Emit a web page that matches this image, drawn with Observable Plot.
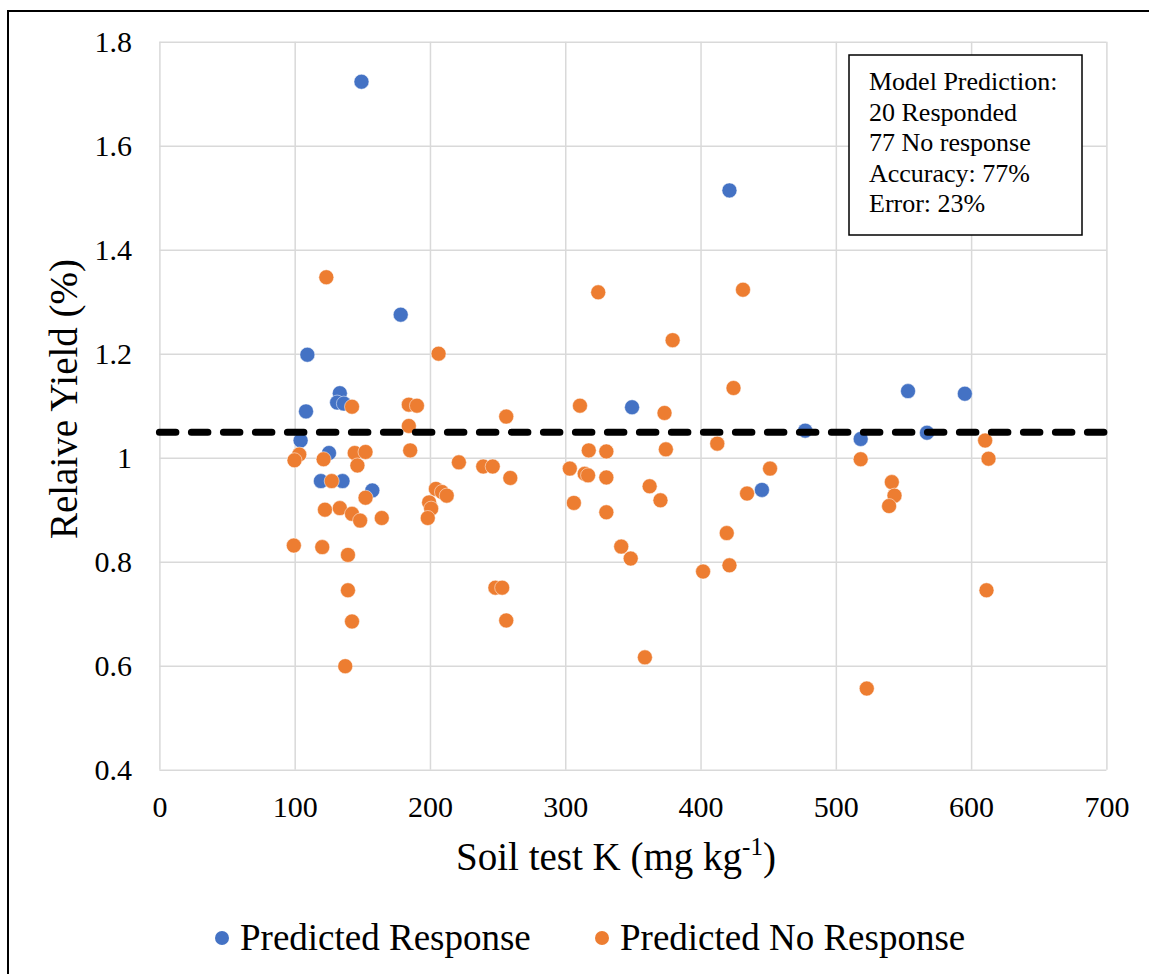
<!DOCTYPE html>
<html>
<head>
<meta charset="utf-8">
<script src="https://cdn.jsdelivr.net/npm/d3@7"></script>
<script src="https://cdn.jsdelivr.net/npm/@observablehq/plot@0.6"></script>
<style>
  html, body { margin: 0; padding: 0; background: #fff; }
  #wrap { position: relative; width: 1149px; height: 974px; overflow: hidden; }
  #wrap svg, #wrap svg text { font-family: "Liberation Serif", "Times New Roman", serif !important; }
  #frame { position: absolute; left: 7px; top: 10px; width: 1300px; height: 1100px;
           border-top: 2px solid #000; border-left: 2.5px solid #000; pointer-events: none; }
</style>
</head>
<body>
<div id="wrap"><div id="frame"></div></div>
<script>
// Soil test K (mg/kg) and relative yield for sites the model predicted to respond
const responseK  = [149, 421, 178, 109, 133, 131, 136, 108, 104, 125, 119, 135, 157, 349, 477, 445, 553, 518, 567, 595];
const responseRY = [1.724, 1.515, 1.276, 1.199, 1.125, 1.107, 1.105, 1.090, 1.034, 1.010, 0.956, 0.956, 0.938, 1.098, 1.053, 0.939, 1.129, 1.037, 1.049, 1.124];

// Sites the model predicted would not respond
const noRespK  = [123, 324, 431, 379, 206, 424, 142, 184, 190, 184, 185, 103, 99.5, 121, 144, 152, 146, 127, 152, 122,
                  133, 142, 148, 164, 99, 120, 139, 139, 142, 137, 221, 239, 246, 204, 208.5, 212, 199, 200.5, 198, 248,
                  253, 256, 256, 259, 310.5, 373, 412, 317, 330, 374, 303, 314, 316.5, 330, 362, 370, 306, 330, 341, 348,
                  401.5, 358.5, 451, 434, 419, 421, 518, 541, 543, 539, 610, 612.5, 611, 522.5];
const noRespRY = [1.348, 1.319, 1.324, 1.227, 1.201, 1.135, 1.099, 1.103, 1.101, 1.062, 1.015, 1.007, 0.996, 0.998, 1.010, 1.012, 0.986, 0.956, 0.924, 0.901,
                  0.904, 0.893, 0.880, 0.885, 0.832, 0.829, 0.814, 0.746, 0.686, 0.600, 0.992, 0.984, 0.984, 0.941, 0.935, 0.928, 0.915, 0.903, 0.885, 0.751,
                  0.751, 1.080, 0.688, 0.962, 1.101, 1.087, 1.028, 1.015, 1.013, 1.017, 0.980, 0.970, 0.967, 0.963, 0.946, 0.919, 0.914, 0.896, 0.830, 0.807,
                  0.782, 0.617, 0.980, 0.932, 0.856, 0.794, 0.998, 0.954, 0.928, 0.908, 1.034, 0.999, 0.746, 0.557];

// Critical relative-yield threshold
const threshold = 1.05;

// Axis ticks
const xTicks = [0, 100, 200, 300, 400, 500, 600, 700];
const yTicks = [0.4, 0.6, 0.8, 1.0, 1.2, 1.4, 1.6, 1.8];

// Series names, colours and the model summary
const seriesNames  = ["Predicted Response", "Predicted No Response"];
const seriesColors = ["#4472C4", "#ED7D31"];
const summaryLines = ["Model Prediction:", "20 Responded", "77 No response", "Accuracy: 77%", "Error: 23%"];

const response   = responseK.map((k, i) => ({k, ry: responseRY[i]}));
const noResponse = noRespK.map((k, i) => ({k, ry: noRespRY[i]}));

const W = 1149, H = 974;
const serif = "'Liberation Serif', 'Times New Roman', serif";

const chart = Plot.plot({
  width: W,
  height: H,
  marginLeft: 159.4,
  marginRight: 42.6,
  marginTop: 41.7,
  marginBottom: 204.3,
  style: {fontFamily: serif, background: "white", color: "black"},
  x: {domain: [0, 700]},
  y: {domain: [0.4, 1.8]},
  marks: [
    Plot.gridX(xTicks, {stroke: "#d9d9d9", strokeOpacity: 1, strokeWidth: 1.5}),
    Plot.gridY(yTicks, {stroke: "#d9d9d9", strokeOpacity: 1, strokeWidth: 1.5}),
    Plot.axisX({ticks: xTicks, tickSize: 0, tickPadding: 25, fontSize: 30, label: null}),
    Plot.axisY({ticks: yTicks, tickSize: 0, tickPadding: 28, fontSize: 30, label: null,
                tickFormat: d => String(+d.toFixed(1))}),
    Plot.dot(response,   {x: "k", y: "ry", r: 7.5, fill: seriesColors[0], stroke: "white", strokeWidth: 0.5}),
    Plot.dot(noResponse, {x: "k", y: "ry", r: 7.5, fill: seriesColors[1], stroke: "white", strokeWidth: 0.5}),
    Plot.ruleY([threshold], {stroke: "black", strokeWidth: 7, strokeDasharray: "16.5,15.5", strokeLinecap: "round"})
  ]
});

const svg = d3.select(chart).attr("font-family", serif);

// Y axis title
svg.append("text")
  .attr("transform", "translate(77,399) rotate(-90)")
  .attr("text-anchor", "middle")
  .attr("font-size", 39).attr("fill", "black")
  .text("Relaive Yield (%)");

// X axis title with superscript
const xt = svg.append("text")
  .attr("x", 616).attr("y", 870)
  .attr("text-anchor", "middle")
  .attr("font-size", 39).attr("fill", "black");
xt.append("tspan").text("Soil test K (mg kg");
xt.append("tspan").attr("font-size", 25).attr("dy", -15).text("-1");
xt.append("tspan").attr("dy", 15).text(")");

// Legend
const legendX = [222, 602];
seriesNames.forEach((name, i) => {
  svg.append("circle").attr("cx", legendX[i]).attr("cy", 938).attr("r", 7).attr("fill", seriesColors[i]);
  svg.append("text").attr("x", legendX[i] + 18).attr("y", 950)
    .attr("text-anchor", "start")
    .attr("font-size", 37).attr("fill", "black").text(name);
});

// Model summary box
svg.append("rect").attr("x", 849).attr("y", 55).attr("width", 233).attr("height", 180)
  .attr("fill", "white").attr("stroke", "black").attr("stroke-width", 1.5);
summaryLines.forEach((line, i) => {
  svg.append("text").attr("x", 869).attr("y", 90 + i * 30.5)
    .attr("text-anchor", "start")
    .attr("font-size", 26).attr("fill", "black").text(line);
});

document.getElementById("wrap").prepend(chart);
</script>
</body>
</html>
